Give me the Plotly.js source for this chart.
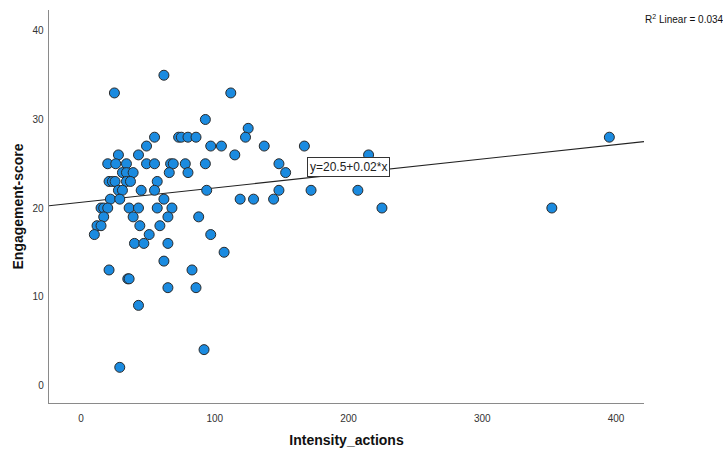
<!DOCTYPE html>
<html>
<head>
<meta charset="utf-8">
<script src="https://cdn.plot.ly/plotly-3.0.1.min.js"></script>
<style>html,body{margin:0;padding:0;background:#fff;}#chart{width:723px;height:454px;}</style>
</head>
<body>
<div id="chart"></div>
<script>
// Intensity_actions values
const intensity = [
  62,
  25, 112,
  93,
  125,
  55, 73, 75, 80, 86, 123, 395,
  49, 97, 105, 137, 167,
  28, 43, 115, 215,
  20, 26, 34, 49, 55, 67, 69, 78, 93, 148,
  31, 34, 39, 66, 80, 153,
  21, 23.5, 25.5, 34, 37, 57,
  28, 31, 45, 55, 94, 148, 172, 207,
  22, 29, 62, 119, 129, 144,
  15, 17, 20, 36, 43, 57, 68, 225, 352,
  17, 39, 65, 88,
  12, 15, 44, 59,
  10, 51, 97,
  40, 47, 65,
  107,
  62,
  21, 83,
  35, 36,
  65, 86,
  43,
  92,
  29
];
// Engagement-score values
const engagement = [
  35,
  33, 33,
  30,
  29,
  28, 28, 28, 28, 28, 28, 28,
  27, 27, 27, 27, 27,
  26, 26, 26, 26,
  25, 25, 25, 25, 25, 25, 25, 25, 25, 25,
  24, 24, 24, 24, 24, 24,
  23, 23, 23, 23, 23, 23,
  22, 22, 22, 22, 22, 22, 22, 22,
  21, 21, 21, 21, 21, 21,
  20, 20, 20, 20, 20, 20, 20, 20, 20,
  19, 19, 19, 19,
  18, 18, 18, 18,
  17, 17, 17,
  16, 16, 16,
  15,
  14,
  13, 13,
  12, 12,
  11, 11,
  9,
  4,
  2
];
// Fitted line (as drawn) and labels
const fitIntercept = 20.64;
const fitSlope = 0.0163;
const fitLabel = "y=20.5+0.02*x";
const r2Label = "R<sup>2</sup> Linear = 0.034";
const xTicks = [0, 100, 200, 300, 400];
const yTicks = [0, 10, 20, 30, 40];
const xRange = [-23.9, 420.9];
const yRange = [-2.03, 42.37];

const lineX = [xRange[0], xRange[1]];
const lineY = lineX.map(v => fitIntercept + fitSlope * v);

const font = "Liberation Sans, Arial, sans-serif";

const traces = [
  {
    x: lineX, y: lineY, type: 'scatter', mode: 'lines',
    line: {color: '#222', width: 1.1}, hoverinfo: 'skip', showlegend: false
  },
  {
    x: intensity, y: engagement, type: 'scatter', mode: 'markers',
    marker: {size: 10, color: '#1b8be0', line: {color: '#2a2a2a', width: 1}},
    showlegend: false
  }
];

const layout = {
  width: 723, height: 454,
  margin: {l: 49, r: 79, t: 10, b: 51},
  paper_bgcolor: '#fff', plot_bgcolor: '#fff',
  font: {family: font, color: '#333', size: 10},
  xaxis: {
    range: xRange, tickvals: xTicks, ticktext: xTicks.map(String),
    showgrid: false, zeroline: false, showline: true, linecolor: '#8a8a8a', linewidth: 1.3,
    ticks: '', ticklabelstandoff: 6,
    tickfont: {family: font, size: 10, color: '#333'},
    title: {text: 'Intensity_actions', font: {family: font, size: 14, color: '#111', weight: 'bold'}, standoff: 12},
    automargin: false
  },
  yaxis: {
    range: yRange, tickvals: yTicks, ticktext: yTicks.map(String),
    showgrid: false, zeroline: false, showline: true, linecolor: '#8a8a8a', linewidth: 1.3,
    ticks: '', ticklabelstandoff: 2,
    tickfont: {family: font, size: 10, color: '#333'},
    title: {text: 'Engagement-score', font: {family: font, size: 14, color: '#111', weight: 'bold'}, standoff: 5},
    automargin: false
  },
  annotations: [
    {
      x: 200, y: 24.6, xref: 'x', yref: 'y', text: fitLabel, showarrow: false,
      font: {family: font, size: 12, color: '#222'},
      bgcolor: '#fff', bordercolor: '#333', borderwidth: 1, borderpad: 2
    },
    {
      x: 1, y: 1, xref: 'paper', yref: 'paper', xanchor: 'right', yanchor: 'top',
      text: r2Label, showarrow: false, xshift: 82, yshift: -1,
      font: {family: font, size: 10, color: '#111'}
    }
  ],
  showlegend: false
};

Plotly.newPlot('chart', traces, layout, {displayModeBar: false, staticPlot: true});
</script>
</body>
</html>
